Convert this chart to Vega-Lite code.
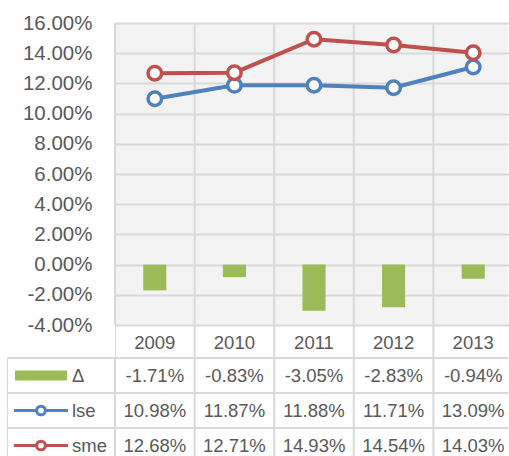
{
  "$schema": "https://vega.github.io/schema/vega-lite/v6.json",
  "padding": {"left": 7, "top": 13, "right": 0, "bottom": 0},
  "config": {
    "view": {"stroke": null},
    "font": "Liberation Sans",
    "locale": {"number": {"decimal": ".", "thousands": ",", "grouping": [3], "currency": ["$", ""], "minus": "-"}}
  },
  "datasets": {
    "d": [
      {"year": "2009", "series": "Δ", "value": -0.0171},
      {"year": "2010", "series": "Δ", "value": -0.0083},
      {"year": "2011", "series": "Δ", "value": -0.0305},
      {"year": "2012", "series": "Δ", "value": -0.0283},
      {"year": "2013", "series": "Δ", "value": -0.0094},
      {"year": "2009", "series": "lse", "value": 0.1098},
      {"year": "2010", "series": "lse", "value": 0.1187},
      {"year": "2011", "series": "lse", "value": 0.1188},
      {"year": "2012", "series": "lse", "value": 0.1171},
      {"year": "2013", "series": "lse", "value": 0.1309},
      {"year": "2009", "series": "sme", "value": 0.1268},
      {"year": "2010", "series": "sme", "value": 0.1271},
      {"year": "2011", "series": "sme", "value": 0.1493},
      {"year": "2012", "series": "sme", "value": 0.1454},
      {"year": "2013", "series": "sme", "value": 0.1403}
    ]
  },
  "columns": 2,
  "spacing": {"row": 0, "column": 0},
  "bounds": "flush",
  "align": "each",
  "concat": [
    {
      "width": 108,
      "height": 302,
      "data": {"values": [{"k": 1}]},
      "mark": {"type": "point", "opacity": 0}
    },
    {
      "width": 393,
      "height": 302,
      "view": {"fill": "#f3f3f3"},
      "data": {"name": "d"},
      "layer": [
        {
          "transform": [{"filter": "datum.series === 'Δ'"}],
          "mark": {"type": "rule", "color": "#d9d9d9", "strokeWidth": 2},
          "encoding": {
            "x": {"field": "year", "type": "ordinal", "bandPosition": 0,
              "scale": {"type": "band", "range": [0, 398], "paddingInner": 0, "paddingOuter": 0},
              "axis": {"title": null, "ticks": false, "domain": false, "grid": false, "labelAngle": 0, "labelBaseline": "middle", "labelPadding": 17.5, "labelFontSize": 18.5, "labelColor": "#595959"}}
          }
        },
        {
          "transform": [{"filter": "datum.series === 'Δ'"}],
          "mark": {"type": "bar", "color": "#9bbb59", "width": {"band": 0.29}},
          "encoding": {
            "x": {"field": "year", "type": "ordinal",
              "scale": {"type": "band", "range": [0, 398], "paddingInner": 0, "paddingOuter": 0},
              "axis": {"title": null, "ticks": false, "domain": false, "grid": false, "labelAngle": 0, "labelBaseline": "middle", "labelPadding": 17.5, "labelFontSize": 18.5, "labelColor": "#595959"}},
            "y": {"field": "value", "type": "quantitative",
              "scale": {"domain": [-0.04, 0.16], "nice": false, "zero": false},
              "axis": {"title": null, "values": [-0.04, -0.02, 0, 0.02, 0.04, 0.06, 0.08, 0.1, 0.12, 0.14, 0.16], "tickCount": 20, "labelOverlap": false, "format": ".2%", "grid": true, "gridColor": "#d9d9d9", "gridWidth": 2, "ticks": false, "domain": false, "labelPadding": 23, "labelFontSize": 20.5, "labelColor": "#595959"}}
          }
        },
        {
          "transform": [{"filter": "datum.series !== 'Δ'"}],
          "mark": {"type": "line", "strokeWidth": 4},
          "encoding": {
            "x": {"field": "year", "type": "ordinal"},
            "y": {"field": "value", "type": "quantitative",
              "scale": {"domain": [-0.04, 0.16], "nice": false, "zero": false},
              "axis": {"title": null, "values": [-0.04, -0.02, 0, 0.02, 0.04, 0.06, 0.08, 0.1, 0.12, 0.14, 0.16], "tickCount": 20, "labelOverlap": false, "format": ".2%", "grid": true, "gridColor": "#d9d9d9", "gridWidth": 2, "ticks": false, "domain": false, "labelPadding": 23, "labelFontSize": 20.5, "labelColor": "#595959"}},
            "stroke": {"field": "series", "type": "nominal", "scale": {"domain": ["Δ", "lse", "sme"], "range": ["#9bbb59", "#4f81bd", "#c0504d"]}, "legend": null}
          }
        },
        {
          "transform": [{"filter": "datum.series !== 'Δ'"}],
          "mark": {"type": "point", "filled": true, "fill": "#ffffff", "size": 182, "strokeWidth": 3.5, "opacity": 1},
          "encoding": {
            "x": {"field": "year", "type": "ordinal"},
            "y": {"field": "value", "type": "quantitative",
              "scale": {"domain": [-0.04, 0.16], "nice": false, "zero": false},
              "axis": {"title": null, "values": [-0.04, -0.02, 0, 0.02, 0.04, 0.06, 0.08, 0.1, 0.12, 0.14, 0.16], "tickCount": 20, "labelOverlap": false, "format": ".2%", "grid": true, "gridColor": "#d9d9d9", "gridWidth": 2, "ticks": false, "domain": false, "labelPadding": 23, "labelFontSize": 20.5, "labelColor": "#595959"}},
            "stroke": {"field": "series", "type": "nominal", "scale": {"domain": ["Δ", "lse", "sme"], "range": ["#9bbb59", "#4f81bd", "#c0504d"]}, "legend": null}
          }
        }
      ]
    },
    {
      "width": 108,
      "height": 131,
      "data": {"name": "d"},
      "transform": [{"aggregate": [], "groupby": ["series"]}],
      "encoding": {
        "y": {"field": "series", "type": "nominal", "scale": {"type": "band", "domain": ["Δ", "lse", "sme"], "range": [33, 138], "paddingInner": 0, "paddingOuter": 0}, "axis": null}
      },
      "layer": [
        {
          "mark": {"type": "rect", "fill": "#ffffff", "fillOpacity": 0, "stroke": "#d9d9d9", "strokeWidth": 2, "clip": true},
          "encoding": {
            "x": {"datum": "lg", "type": "nominal", "scale": {"type": "band", "domain": ["lg"], "paddingInner": 0, "paddingOuter": 0}, "axis": null}
          }
        },
        {
          "mark": {"type": "point", "size": 4, "strokeWidth": 3, "opacity": 1, "filled": true},
          "encoding": {
            "shape": {"field": "series", "type": "nominal", "legend": null,
              "scale": {"domain": ["Δ", "lse", "sme"], "range": [
                "M-44.5,-3.5H4.5V3.5H-44.5Z",
                "M-47,0H-24.35M-15.65,0H7M-15.65,0A4.35,4.35 0 1 1 -24.35,0A4.35,4.35 0 1 1 -15.65,0Z",
                "M-47,0H-24.35M-15.65,0H7M-15.65,0A4.35,4.35 0 1 1 -24.35,0A4.35,4.35 0 1 1 -15.65,0Z"]}},
            "stroke": {"field": "series", "type": "nominal", "scale": {"domain": ["Δ", "lse", "sme"], "range": ["#9bbb59", "#4f81bd", "#c0504d"]}, "legend": null},
            "fill": {"field": "series", "type": "nominal", "scale": {"domain": ["Δ", "lse", "sme"], "range": ["#9bbb59", "#ffffff", "#ffffff"]}, "legend": null}
          }
        },
        {
          "mark": {"type": "text", "align": "left", "baseline": "middle", "dx": 11, "fontSize": 18.5, "color": "#595959", "clip": true},
          "encoding": {
            "text": {"field": "series", "type": "nominal"}
          }
        }
      ]
    },
    {
      "width": 393,
      "height": 131,
      "data": {"name": "d"},
      "layer": [
        {
          "transform": [{"filter": "datum.series === 'Δ'"}],
          "mark": {"type": "rule", "color": "#d9d9d9", "strokeWidth": 2, "clip": true},
          "encoding": {
            "x": {"field": "year", "type": "ordinal", "bandPosition": 0, "scale": {"type": "band", "range": [0, 398], "paddingInner": 0, "paddingOuter": 0}, "axis": null}
          }
        },
        {
          "transform": [{"aggregate": [], "groupby": ["series"]}],
          "mark": {"type": "rule", "color": "#d9d9d9", "strokeWidth": 2, "clip": true},
          "encoding": {
            "y": {"field": "series", "type": "nominal", "bandPosition": 0, "scale": {"type": "band", "domain": ["Δ", "lse", "sme"], "range": [33, 138], "paddingInner": 0, "paddingOuter": 0}, "axis": null}
          }
        },
        {
          "mark": {"type": "text", "align": "center", "baseline": "middle", "fontSize": 18.5, "color": "#595959", "clip": true},
          "encoding": {
            "x": {"field": "year", "type": "ordinal"},
            "y": {"field": "series", "type": "nominal"},
            "text": {"field": "value", "type": "quantitative", "format": ".2%"}
          }
        }
      ]
    }
  ]
}
